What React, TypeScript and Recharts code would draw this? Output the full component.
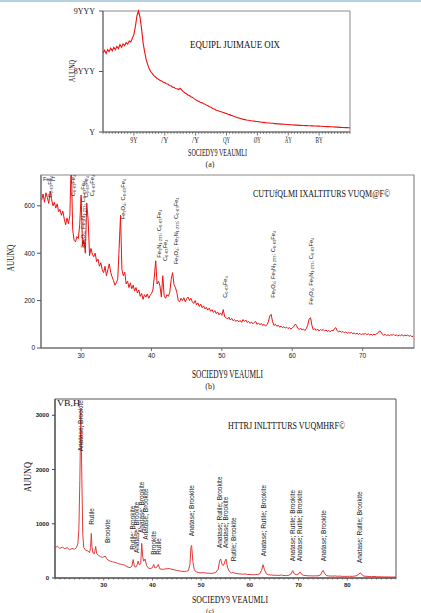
import React from 'react';
import { LineChart, Line, XAxis, YAxis, ReferenceArea, ReferenceDot } from 'recharts';

const SERIF = "'Liberation Serif', 'Times New Roman', serif";
const SANS = "'Liberation Sans', Arial, sans-serif";

// ---------- scan (a): counts on a 0.5° grid from 10° ----------
const scanAStart = 10;
const scanAStep = 0.5;
const scanACounts = [
  1305, 1350, 1295, 1362, 1330, 1385, 1342, 1398, 1360, 1415,
  1380, 1445, 1400, 1455, 1425, 1478, 1452, 1505, 1488, 1550,
  1610, 1745, 1925, 2000, 1895, 1700, 1470, 1320, 1195, 1110,
  1040, 995, 965, 930, 910, 885, 872, 850, 842, 822,
  818, 798, 792, 770, 765, 742, 738, 718, 715, 702,
  722, 698, 668, 648, 632, 612, 602, 582, 572, 552,
  535, 518, 508, 492, 486, 468, 462, 444, 432, 418,
  408, 390, 382, 364, 357, 348, 340, 330, 322, 312,
  306, 294, 287, 275, 268, 256, 249, 238, 233, 222,
  217, 208, 204, 197, 194, 189, 187, 181, 179, 174,
  173, 167, 166, 161, 159, 155, 154, 149, 149, 145,
  144, 139, 139, 135, 135, 131, 131, 127, 127, 123,
  123, 119, 119, 116, 117, 113, 114, 110, 111, 107,
  108, 105, 106, 103, 104, 101, 102, 99, 100, 97,
  97, 94, 95, 92, 92, 89, 90, 86, 87, 83,
  84, 80, 81, 77, 78, 75, 75, 72, 73, 70,
  70,
];
const scanAAngleTicks = [20, 30, 40, 50, 60, 70, 80];
const scanAAngleLabels = ['9Y', '/Y', '/Y', 'QY', 'ØY', 'ÄY', 'BY'];
const scanACountTicks = [0, 1000, 2000];
const scanACountLabels = ['Y', '8YYY', '9YYY'];

// ---------- scan (b): counts on a 0.2° grid from 24.4° ----------
const scanBStart = 24.4;
const scanBStep = 0.2;
const scanBCounts = [
  625, 650, 615, 655, 635, 610, 662, 628, 600, 615,
  590, 608, 575, 585, 560, 578, 545, 520, 548, 525,
  560, 790, 500, 455, 448, 470, 462, 520, 645, 430,
  455, 400, 612, 540, 390, 420, 395, 385, 400, 365,
  375, 345, 360, 330, 318, 345, 305, 330, 355, 320,
  300, 285, 265, 275, 290, 420, 560, 330, 305, 320,
  270, 282, 255, 275, 250, 265, 240, 255, 232, 245,
  218, 230, 205, 225, 215, 228, 210, 222, 230, 245,
  300, 368, 270, 282, 262, 215, 305, 222, 210, 225,
  218, 235, 290, 318, 268, 255, 235, 200, 195, 210,
  200, 212, 195, 208, 215, 200, 210, 195, 188, 200,
  182, 190, 175, 185, 170, 178, 165, 172, 160, 168,
  155, 162, 150, 158, 145, 152, 140, 148, 138, 162,
  132, 128, 122, 130, 118, 125, 115, 120, 112, 118,
  110, 116, 108, 120, 112, 118, 108, 112, 104, 110,
  102, 108, 112, 100, 106, 98, 104, 95, 100, 92,
  98, 110, 135, 142, 112, 95, 100, 92, 96, 88,
  92, 86, 90, 84, 88, 82, 86, 80, 84, 90,
  100, 96, 82, 78, 84, 76, 80, 74, 82, 96,
  122, 128, 95, 76, 82, 74, 80, 72, 78, 74,
  78, 72, 76, 70, 74, 68, 75, 72, 82, 86,
  72, 68, 72, 66, 70, 64, 68, 62, 66, 62,
  66, 60, 64, 58, 63, 57, 62, 56, 60, 58,
  62, 56, 60, 55, 58, 54, 58, 56, 60, 64,
  72, 68, 58, 54, 58, 52, 56, 52, 56, 54,
  58, 52, 56, 50, 55, 52, 57, 50, 54, 52,
  55, 49, 53, 48, 50,
];
const scanBAngleTicks = [30, 40, 50, 60, 70];
const scanBCountTicks = [0, 200, 400, 600];
const scanBPeakAngles = [25.6, 28.8, 30.2, 30.75, 31.6, 35.9, 41.0, 41.9, 43.5, 50.4, 57.2, 62.6];
const scanBPeakBases = [635, 640, 423, 635, 640, 543, 381, 367, 353, 212, 212, 183];
const scanBPeakNames = [
  'C₀.₆₃Fe₄',
  'C₀.₆₃Fe₄',
  'Fe₃O₄; Fe₃N₁.₂₃₃; C₀.₆₃Fe₄',
  'C₀.₆₃Fe₄',
  'C₀.₆₃Fe₄',
  'Fe₃O₄; C₀.₆₃Fe₄',
  'Fe₃N₁.₂₃₃; C₀.₆₃Fe₄',
  'C₀.₆₃Fe₄',
  'Fe₃O₄; Fe₃N₁.₂₃₃; C₀.₆₃Fe₄',
  'C₀.₆₃Fe₄',
  'Fe₃O₄; Fe₃N₁.₂₃₃; C₀.₆₃Fe₄',
  'Fe₃O₄; Fe₃N₁.₂₃₃; C₀.₆₃Fe₄',
];

// ---------- scan (c): measured angle / count pairs ----------
const scanCAngles = [
  20.0, 20.5, 21.0, 21.5, 22.0, 22.5, 23.0, 23.5, 24.0, 24.4, 24.7, 24.9, 25.1, 25.3, 25.5, 25.7, 25.9,
  26.3, 26.7, 27.1, 27.3, 27.45, 27.6, 27.8, 28.1, 28.35, 28.55, 28.9, 29.3, 29.7, 30.0, 30.3, 30.6,
  30.9, 31.1, 31.4, 31.8, 32.2, 32.6, 33.0, 33.4, 33.8, 34.2, 34.6, 35.0, 35.4, 35.8, 36.05, 36.3,
  36.6, 36.9, 37.05, 37.3, 37.6, 37.8, 38.0, 38.2, 38.5, 38.8, 39.2, 39.6, 40.0, 40.25, 40.5, 40.9,
  41.2, 41.5, 42.0, 42.5, 43.0, 43.5, 44.0, 44.5, 45.0, 45.5, 46.0, 46.5, 47.0, 47.4, 47.7, 47.9,
  48.05, 48.3, 48.6, 49.0, 49.5, 50.0, 50.5, 51.0, 51.5, 52.0, 52.5, 53.0, 53.5, 53.8, 54.0, 54.3,
  54.6, 54.9, 55.1, 55.4, 55.8, 56.2, 56.6, 57.0, 57.5, 58.0, 58.5, 59.0, 59.5, 60.0, 60.5, 61.0,
  61.5, 62.0, 62.4, 62.7, 63.0, 63.4, 63.8, 64.5, 65.0, 65.5, 66.0, 66.5, 67.0, 67.5, 68.0, 68.4,
  68.8, 69.1, 69.5, 70.0, 70.3, 70.6, 71.0, 71.5, 72.0, 72.5, 73.0, 73.5, 74.0, 74.5, 74.8, 75.05,
  75.3, 75.7, 76.2, 77.0, 77.5, 78.0, 78.5, 79.0, 79.5, 80.0, 80.5, 81.0, 81.5, 82.0, 82.4, 82.7,
  83.0, 83.4, 84.0, 84.5, 85.0, 85.5, 86.0, 86.5, 87.0, 87.5, 88.0, 88.5, 89.0, 89.5, 90.0,
];
const scanCCounts = [
  560, 585, 545, 570, 540, 560, 520, 545, 530, 560, 640, 900, 1800, 3100, 1900, 800, 560,
  510, 500, 470, 560, 820, 560, 460, 450, 580, 450, 420, 395, 380, 390, 405, 360,
  330, 320, 310, 300, 290, 280, 265, 255, 250, 240, 220, 200, 190, 220, 340, 215,
  200, 250, 310, 245, 260, 640, 400, 310, 350, 230, 180, 175, 190, 250, 185, 200,
  250, 170, 160, 165, 170, 175, 160, 150, 140, 130, 125, 120, 125, 140, 250, 560,
  600, 300, 150, 110, 100, 95, 100, 90, 90, 85, 90, 100, 160, 320, 350, 250,
  230, 310, 350, 200, 120, 95, 100, 85, 80, 75, 70, 75, 65, 65, 60, 60,
  65, 75, 140, 245, 150, 75, 60, 55, 50, 50, 48, 55, 45, 45, 50, 70,
  135, 80, 60, 75, 110, 70, 50, 45, 40, 40, 38, 40, 40, 55, 110, 140,
  90, 45, 38, 35, 38, 32, 35, 30, 30, 30, 32, 30, 35, 45, 75, 95,
  60, 35, 30, 28, 25, 28, 25, 22, 22, 20, 20, 20, 18, 18, 18,
];
const scanCAngleTicks = [30, 40, 50, 60, 70, 80];
const scanCCountTicks = [0, 1000, 2000, 3000];
const scanCPeakAngles = [25.3, 27.45, 30.9, 35.9, 36.8, 37.8, 38.7, 40.3, 41.2, 48.05, 53.9, 55.15, 56.7, 62.85, 68.9, 70.3, 75.1, 82.6];
const scanCPeakBases = [2335, 983, 645, 522, 461, 830, 707, 430, 430, 768, 553, 553, 307, 400, 307, 307, 307, 277];
const scanCPeakNames = [
  'Anatase; Brookite',
  'Rutile',
  'Brookite',
  'Rutile; Brookite',
  'Anatase; Brookite',
  'Anatase; Brookite',
  'Anatase; Brookite',
  'Brookite',
  'Rutile',
  'Anatase; Brookite',
  'Anatase; Rutile; Brookite',
  'Anatase; Brookite',
  'Rutile; Brookite',
  'Anatase; Rutile; Brookite',
  'Anatase; Rutile; Brookite',
  'Anatase; Rutile; Brookite',
  'Anatase; Brookite',
  'Anatase; Rutile; Brookite',
];

// ---------- derived rows ----------
const rowsA = scanACounts.map((c, i) => ({ angle: +(scanAStart + i * scanAStep).toFixed(2), counts: c }));
const rowsB = scanBCounts.map((c, i) => ({ angle: +(scanBStart + i * scanBStep).toFixed(2), counts: c }));
const rowsC = scanCAngles.map((a, i) => ({ angle: a, counts: scanCCounts[i] }));

const degreeSteps = (lo: number, hi: number) => {
  const out: number[] = [];
  for (let d = Math.ceil(lo); d <= hi; d++) out.push(d);
  return out;
};

// bottom-axis tick: short mark every degree, longer mark + label at decades
const makeAngleTick = (labelOf: (v: number) => string | null, style: any) => (props: any) => {
  const { x, y, payload } = props;
  const v = payload.value;
  const label = labelOf(v);
  const major = label !== null;
  return (
    <g>
      <line x1={x} x2={x} y1={y} y2={y + (major ? style.major : style.minor)} stroke={style.stroke} strokeWidth={0.8} />
      {major && (
        <text x={x} y={y + style.offset} textAnchor="middle" fontSize={style.size} fontFamily={style.font}
          fontWeight={style.weight || 'normal'} fill="#222"
          {...(style.squeeze ? { textLength: style.squeeze * label.length, lengthAdjust: 'spacingAndGlyphs' } : {})}>
          {label}
        </text>
      )}
    </g>
  );
};

const peakTag = (text: string, size: number, family: string) => (p: any) => (
  <text x={p.cx} y={p.cy} dy="0.35em" transform={`rotate(-90 ${p.cx} ${p.cy})`} fontSize={size}
    fontFamily={family} fill="#222">
    {text}
  </text>
);

const Squeezed = ({ x, y, w, size, text, rotate, anchor = 'start', family = SERIF }: any) => (
  <text x={x} y={y} fontSize={size} fontFamily={family} fill="#111" textAnchor={anchor}
    textLength={w} lengthAdjust="spacingAndGlyphs"
    transform={rotate ? `rotate(-90 ${x} ${y})` : undefined}>
    {text}
  </text>
);

export default function App() {
  const tickA = makeAngleTick(
    (v) => (scanAAngleTicks.includes(v) ? scanAAngleLabels[scanAAngleTicks.indexOf(v)] : null),
    { major: 3.5, minor: 1.8, offset: 11, size: 8, font: SERIF, stroke: '#555', squeeze: 3.6 },
  );
  const tickB = makeAngleTick(
    (v) => (scanBAngleTicks.includes(v) ? String(v) : null),
    { major: 3, minor: 0, offset: 10, size: 6.5, font: SANS, stroke: '#555' },
  );
  const tickC = makeAngleTick(
    (v) => (scanCAngleTicks.includes(v) ? String(v) : null),
    { major: 2.5, minor: 1.5, offset: 9, size: 6, font: SANS, stroke: '#555', weight: 'bold' },
  );

  return (
    <div style={{ position: 'absolute', left: 0, top: 0, width: 421, height: 613, background: '#fff', overflow: 'hidden' }}>
      {/* (a) */}
      <div style={{ position: 'absolute', left: 0, top: 0 }}>
        <LineChart width={421} height={160} data={rowsA} margin={{ top: 11, right: 71, bottom: 0, left: 0 }}>
          <XAxis dataKey="angle" type="number" domain={[10, 90]} ticks={degreeSteps(10, 90)} interval={0}
            tickLine={false} tickSize={0} tickMargin={0} height={28} axisLine={{ stroke: '#666' }} tick={tickA} />
          <YAxis type="number" domain={[0, 2000]} ticks={scanACountTicks} width={103} interval={0}
            axisLine={{ stroke: '#666' }} tickLine={{ stroke: '#555' }} tickSize={4} tickMargin={4}
            tickFormatter={(v: number) => scanACountLabels[scanACountTicks.indexOf(v)]}
            tick={{ fontSize: 8, fontFamily: SERIF, fill: '#222' }} />
          <ReferenceArea x1={10} x2={90} y1={0} y2={2000} fill="none" stroke="#8a8a8a" ifOverflow="visible" />
          <Line dataKey="counts" stroke="#f01010" strokeWidth={1.1} dot={false} isAnimationActive={false} />
        </LineChart>
      </div>

      {/* (b) */}
      <div style={{ position: 'absolute', left: 0, top: 165 }}>
        <LineChart width={421} height={205} data={rowsB} margin={{ top: 10, right: 7, bottom: 0, left: 0 }}>
          <XAxis dataKey="angle" type="number" domain={[24.3, 77.3]} ticks={scanBAngleTicks} interval={0}
            tickLine={false} tickSize={0} tickMargin={0} height={22} axisLine={{ stroke: '#666' }} tick={tickB} allowDataOverflow />
          <YAxis type="number" domain={[0, 730]} ticks={scanBCountTicks} width={41} interval={0} allowDataOverflow
            axisLine={{ stroke: '#666' }} tickLine={{ stroke: '#555' }} tickSize={4} tickMargin={2}
            tick={{ fontSize: 6.5, fontFamily: SANS, fill: '#222' }} />
          <ReferenceArea x1={24.3} x2={77.3} y1={0} y2={730} fill="none" stroke="#8a8a8a" strokeWidth={1.2} ifOverflow="visible" />
          <Line dataKey="counts" stroke="#ee1111" strokeWidth={1} dot={false} isAnimationActive={false} />
          {scanBPeakAngles.map((a, i) => (
            <ReferenceDot key={i} x={a} y={scanBPeakBases[i]} r={0}
              shape={peakTag(scanBPeakNames[i], 5.7, SANS)} />
          ))}
        </LineChart>
      </div>

      {/* (c) */}
      <div style={{ position: 'absolute', left: 0, top: 390 }}>
        <LineChart width={421} height={210} data={rowsC} margin={{ top: 9, right: 25, bottom: 0, left: 0 }}>
          <XAxis dataKey="angle" type="number" domain={[20, 90]} ticks={degreeSteps(20, 90)} interval={0}
            tickLine={false} tickSize={0} tickMargin={0} height={22} axisLine={{ stroke: '#444' }} tick={tickC} />
          <YAxis type="number" domain={[0, 3300]} ticks={scanCCountTicks} width={55} interval={0}
            axisLine={{ stroke: '#444' }} tickLine={{ stroke: '#444' }} tickSize={3} tickMargin={3}
            tick={{ fontSize: 6, fontFamily: SANS, fontWeight: 'bold', fill: '#222' }} />
          <ReferenceArea x1={20} x2={90} y1={0} y2={3300} fill="none" stroke="#555" ifOverflow="visible" />
          <Line dataKey="counts" stroke="#e23a3a" strokeWidth={1} dot={false} isAnimationActive={false} />
          {scanCPeakAngles.map((a, i) => (
            <ReferenceDot key={i} x={a} y={scanCPeakBases[i]} r={0}
              shape={peakTag(scanCPeakNames[i], 6.5, SANS)} />
          ))}
        </LineChart>
      </div>

      {/* titles, axis captions, panel letters */}
      <svg width={421} height={613} style={{ position: 'absolute', left: 0, top: 0, pointerEvents: 'none' }}>
        <line x1={0} x2={421} y1={1} y2={1} stroke="#9cc2d8" strokeWidth={1.5} />

        <Squeezed x={190} y={48} w={90} size={10} text="EQUIPL JUIMAUE OIX" />
        <Squeezed x={75} y={71} w={22} size={9} text="AUUNQ" rotate anchor="middle" />
        <Squeezed x={188} y={156} w={59} size={10} text="SOCIEDY9 VEAUMLI" />
        <text x={210} y={167} fontSize={8} fontFamily={SERIF} textAnchor="middle" fill="#222">(a)</text>

        <Squeezed x={253} y={197} w={137} size={9.5} text="CUTUfQLMI IXALTITURS VUQM@F©" />
        <text x={43} y={181} fontSize={5.5} fontFamily={SANS} fill="#222">Fe-C</text>
        <Squeezed x={14} y={258} w={27} size={11} text="AUUNQ" rotate anchor="middle" />
        <Squeezed x={192} y={378} w={71} size={12} text="SOCIEDY9 VEAUMLI" />
        <text x={210} y={389} fontSize={8} fontFamily={SERIF} textAnchor="middle" fill="#222">(b)</text>

        <Squeezed x={228} y={429} w={117} size={10} text="HTTRJ INLTTTURS VUQMHRF©" />
        <Squeezed x={57} y={406} w={23} size={8} text="VB,H" />
        <Squeezed x={31} y={477} w={30} size={11} text="AUUNQ" rotate anchor="middle" />
        <Squeezed x={192} y={603} w={76} size={11} text="SOCIEDY9 VEAUMLI" />
        <text x={210} y={613} fontSize={7} fontFamily={SERIF} textAnchor="middle" fill="#222">(c)</text>
      </svg>
    </div>
  );
}
